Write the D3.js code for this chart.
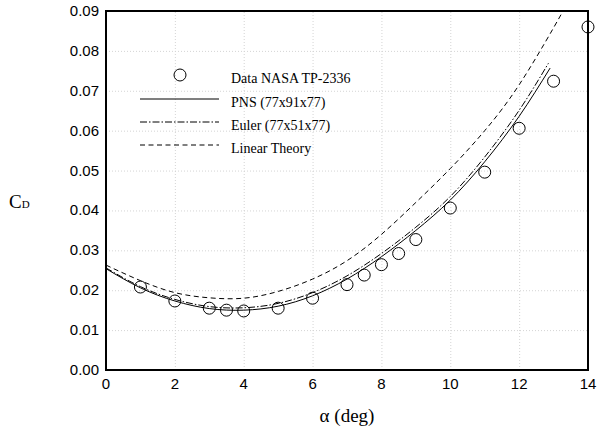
<!DOCTYPE html>
<html lang="en">
<head>
  <meta charset="UTF-8">
  <title>CD vs alpha</title>
  <script src="https://d3js.org/d3.v7.min.js"></script>
  <style>
    body { margin: 0; background: white; }
    .tick-label { font-family: 'Liberation Sans', Arial, sans-serif; font-size: 15px; fill: black; }
    .serif { font-family: 'Liberation Serif', 'Times New Roman', serif; fill: black; }
  </style>
</head>
<body>
  <svg width="598" height="434"></svg>

  <script>
    // measured data points
    const dataAlpha = [1, 2, 3, 3.5, 4, 5, 6, 7, 7.5, 8, 8.5, 9, 10, 11, 12, 13, 14];
    const dataCd = [0.0208, 0.0173, 0.0155, 0.0150, 0.0148, 0.0155, 0.0180, 0.0214, 0.0238, 0.0264, 0.0292, 0.0327, 0.0406, 0.0496, 0.0606, 0.0724, 0.0860];

    // PNS (77x91x77)
    const pnsAlpha = [0, 1, 2, 3, 4, 5, 6, 7, 8, 9, 10, 11, 12, 12.9];
    const pnsCd = [0.0254, 0.0206, 0.0173, 0.0154, 0.0150, 0.0160, 0.0186, 0.0228, 0.0284, 0.0350, 0.0426, 0.0522, 0.0636, 0.0757];

    // Euler (77x51x77)
    const eulerAlpha = [0, 1, 2, 3, 4, 5, 6, 7, 8, 9, 10, 11, 12, 12.85];
    const eulerCd = [0.0256, 0.0209, 0.0177, 0.0159, 0.0156, 0.0167, 0.0194, 0.0236, 0.0292, 0.0358, 0.0435, 0.0534, 0.0651, 0.0769];

    // Linear theory
    const linearAlpha = [0, 1, 2, 3, 4, 5, 6, 7, 8, 9, 10, 11, 12, 13, 13.5];
    const linearCd = [0.0263, 0.0224, 0.0194, 0.0181, 0.0180, 0.0197, 0.0228, 0.0274, 0.0340, 0.0420, 0.0505, 0.0600, 0.0715, 0.0858, 0.0935];

    const xTicks = [0, 2, 4, 6, 8, 10, 12, 14];
    const yTicks = [0, 0.01, 0.02, 0.03, 0.04, 0.05, 0.06, 0.07, 0.08, 0.09];

    const legendNames = ["Data NASA TP-2336", "PNS (77x91x77)", "Euler (77x51x77)", "Linear Theory"];

    const pLeft = 106, pRight = 588, pTop = 11, pBottom = 370;

    const x = d3.scaleLinear().domain([0, 14]).range([pLeft, pRight]);
    const y = d3.scaleLinear().domain([0, 0.09]).range([pBottom, pTop]);

    const svg = d3.select("svg");

    svg.append("clipPath").attr("id", "plotclip")
      .append("rect")
      .attr("x", pLeft).attr("y", pTop)
      .attr("width", pRight - pLeft).attr("height", pBottom - pTop);

    // grid lines
    svg.append("g")
      .attr("transform", "translate(0," + pBottom + ")")
      .call(d3.axisBottom(x).tickValues(xTicks).tickSize(-(pBottom - pTop)).tickFormat(""))
      .call(g => g.select(".domain").remove())
      .selectAll("line")
      .attr("stroke", "#d4d4d4")
      .attr("stroke-dasharray", "1,2");

    svg.append("g")
      .attr("transform", "translate(" + pLeft + ",0)")
      .call(d3.axisLeft(y).tickValues(yTicks).tickSize(-(pRight - pLeft)).tickFormat(""))
      .call(g => g.select(".domain").remove())
      .selectAll("line")
      .attr("stroke", "#d4d4d4")
      .attr("stroke-dasharray", "1,2");

    // tick labels
    svg.selectAll("text.xlab")
      .data(xTicks)
      .enter().append("text")
      .attr("class", "tick-label")
      .attr("x", d => x(d))
      .attr("y", pBottom + 19)
      .attr("text-anchor", "middle")
      .text(d => d);

    svg.selectAll("text.ylab")
      .data(yTicks)
      .enter().append("text")
      .attr("class", "tick-label")
      .attr("x", pLeft - 7)
      .attr("y", d => y(d) + 5)
      .attr("text-anchor", "end")
      .text(d => d.toFixed(2));

    // curves
    const curves = [
      { a: pnsAlpha, c: pnsCd, dash: null },
      { a: eulerAlpha, c: eulerCd, dash: "7,2,1.5,2" },
      { a: linearAlpha, c: linearCd, dash: "5,3.5" }
    ];

    const line = d3.line()
      .x(d => x(d[0]))
      .y(d => y(d[1]))
      .curve(d3.curveNatural);

    const plot = svg.append("g").attr("clip-path", "url(#plotclip)");

    curves.forEach(function(cv) {
      plot.append("path")
        .datum(cv.a.map((v, i) => [v, cv.c[i]]))
        .attr("d", line)
        .attr("fill", "none")
        .attr("stroke", "black")
        .attr("stroke-width", 1)
        .attr("stroke-dasharray", cv.dash);
    });

    // frame
    svg.append("rect")
      .attr("x", pLeft).attr("y", pTop)
      .attr("width", pRight - pLeft).attr("height", pBottom - pTop)
      .attr("fill", "none")
      .attr("stroke", "black")
      .attr("stroke-width", 2);

    // data points
    svg.selectAll("circle.pt")
      .data(dataAlpha)
      .enter().append("circle")
      .attr("class", "pt")
      .attr("cx", d => x(d))
      .attr("cy", (d, i) => y(dataCd[i]))
      .attr("r", 6)
      .attr("fill", "none")
      .attr("stroke", "black")
      .attr("stroke-width", 1);

    // legend
    const legendY = [75, 99, 122, 145];
    const legendDash = [null, null, "7,2,1.5,2", "5,3.5"];

    svg.append("circle")
      .attr("cx", 180).attr("cy", legendY[0])
      .attr("r", 6)
      .attr("fill", "none")
      .attr("stroke", "black");

    for (let i = 1; i < 4; i++) {
      svg.append("line")
        .attr("x1", 140).attr("x2", 219)
        .attr("y1", legendY[i]).attr("y2", legendY[i])
        .attr("stroke", "black")
        .attr("stroke-dasharray", legendDash[i]);
    }

    svg.selectAll("text.leg")
      .data(legendNames)
      .enter().append("text")
      .attr("class", "serif")
      .attr("x", 231)
      .attr("y", (d, i) => legendY[i] + 8)
      .style("font-size", "14px")
      .text(d => d);

    // axis titles
    const cd = svg.append("text")
      .attr("class", "serif")
      .attr("x", 9)
      .attr("y", 208)
      .style("font-size", "19px");
    cd.append("tspan").text("C");
    cd.append("tspan").style("font-size", "11px").text("D");

    svg.append("text")
      .attr("class", "serif")
      .attr("x", 347)
      .attr("y", 422)
      .attr("text-anchor", "middle")
      .style("font-size", "19px")
      .text("α (deg)");
  </script>
</body>
</html>
